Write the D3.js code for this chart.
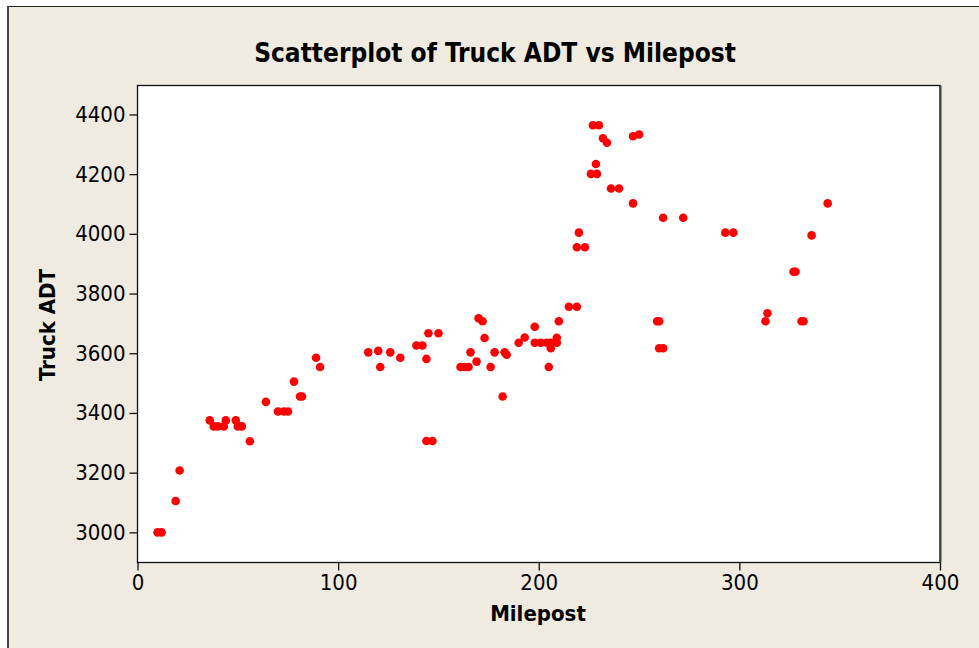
<!DOCTYPE html>
<html>
<head>
<meta charset="utf-8">
<script src="https://cdn.jsdelivr.net/npm/d3@7"></script>
<style>
  html, body { margin: 0; padding: 0; background: #fff; }
  svg { display: block; }
  text { font-family: "DejaVu Sans Condensed", "DejaVu Sans", sans-serif; fill: #000; }
</style>
</head>
<body>
<div id="chart"></div>
<script>
// Scatterplot of Truck ADT vs Milepost (Minitab style)

const milepost = [
  10, 12, 19, 21, 36, 38, 40, 43, 44, 49, 50, 52, 56, 64, 70, 73, 75, 78, 81, 82,
  89, 91, 115, 120, 121, 126, 131, 139, 142, 144, 144, 145, 147, 150, 161, 163, 165, 166, 169, 170,
  172, 173, 176, 178, 182, 183, 184, 190, 193, 198, 198, 201, 204, 205, 206, 206, 209, 209, 210, 215,
  219, 219, 220, 223, 226, 227, 228.5, 229, 230, 232, 234, 236, 240, 247, 247, 250, 259, 260, 260, 262,
  262, 272, 293, 297, 313, 314, 327, 328, 331, 332, 336, 344
];
const truckADT = [
  3000, 3000, 3105, 3207, 3375, 3355, 3355, 3355, 3375, 3375, 3355, 3355, 3305, 3437, 3405, 3405, 3405, 3505, 3455, 3455,
  3585, 3554, 3603, 3608, 3554, 3603, 3585, 3626, 3626, 3581, 3306, 3667, 3306, 3667, 3554, 3554, 3554, 3603, 3572, 3717,
  3707, 3651, 3554, 3603, 3455, 3603, 3595, 3635, 3653, 3635, 3689, 3635, 3635, 3554, 3635, 3617, 3635, 3652, 3707, 3756,
  3756, 3955, 4004, 3955, 4201, 4364, 4234, 4201, 4364, 4320, 4305, 4152, 4152, 4327, 4102, 4333, 3707, 3707, 3617, 3617,
  4054, 4054, 4004, 4004, 3707, 3734, 3873, 3873, 3707, 3707, 3995, 4102
];
const xTicks = [0, 100, 200, 300, 400];
const yTicks = [3000, 3200, 3400, 3600, 3800, 4000, 4200, 4400];

const width = 979;
const height = 648;
const plot = { left: 137.5, right: 940, top: 85.5, bottom: 562.5 };

const svg = d3.select("#chart")
  .append("svg")
  .attr("width", width)
  .attr("height", height);

// Outer beige panel
svg.append("rect")
  .attr("x", 7.5)
  .attr("y", 6.5)
  .attr("width", width + 20)
  .attr("height", height + 20)
  .attr("fill", "#efebe1")
  .attr("stroke", "#222")
  .attr("stroke-width", 1);
svg.append("line")
  .attr("x1", 8).attr("x2", 8)
  .attr("y1", 6).attr("y2", height)
  .attr("stroke", "#444").attr("stroke-width", 2);

const x = d3.scaleLinear().domain([0, 400]).range([plot.left, plot.right]);
const y = d3.scaleLinear().domain([2899, 4497]).range([plot.bottom, plot.top]);

// Data region
svg.append("rect")
  .attr("x", plot.left)
  .attr("y", plot.top)
  .attr("width", plot.right - plot.left)
  .attr("height", plot.bottom - plot.top)
  .attr("fill", "#fff")
  .attr("stroke", "#111")
  .attr("stroke-width", 1.3);
// right edge of the data region is drawn a little heavier
svg.append("line")
  .attr("x1", plot.right + 0.5).attr("x2", plot.right + 0.5)
  .attr("y1", plot.top).attr("y2", plot.bottom)
  .attr("stroke", "#444").attr("stroke-width", 2);

// Axes
const xAxis = svg.append("g")
  .attr("transform", `translate(0,${plot.bottom})`)
  .call(d3.axisBottom(x).tickValues(xTicks).tickFormat(d3.format("d")).tickSize(8).tickPadding(4));
const yAxis = svg.append("g")
  .attr("transform", `translate(${plot.left},0)`)
  .call(d3.axisLeft(y).tickValues(yTicks).tickFormat(d3.format("d")).tickSize(8).tickPadding(4));

[xAxis, yAxis].forEach((g) => {
  g.select(".domain").remove();
  g.selectAll(".tick line").attr("stroke", "#111").attr("stroke-width", 1.3);
  g.selectAll(".tick text")
    .attr("font-family", "\"DejaVu Sans Condensed\", \"DejaVu Sans\", sans-serif")
    .attr("font-size", 22)
    .attr("fill", "#000");
});

// Points
svg.append("g")
  .selectAll("circle")
  .data(milepost.map((m, i) => [m, truckADT[i]]))
  .enter()
  .append("circle")
  .attr("cx", (d) => x(d[0]))
  .attr("cy", (d) => y(d[1]))
  .attr("r", 4.3)
  .attr("fill", "#ff0000");

// Titles
svg.append("text")
  .attr("x", 495)
  .attr("y", 62)
  .attr("text-anchor", "middle")
  .attr("font-size", 26)
  .attr("font-weight", "bold")
  .text("Scatterplot of Truck ADT vs Milepost");

svg.append("text")
  .attr("x", 538)
  .attr("y", 621)
  .attr("text-anchor", "middle")
  .attr("font-size", 22)
  .attr("font-weight", "bold")
  .text("Milepost");

svg.append("text")
  .attr("transform", "translate(55,325) rotate(-90)")
  .attr("text-anchor", "middle")
  .attr("font-size", 22)
  .attr("font-weight", "bold")
  .text("Truck ADT");
</script>
</body>
</html>
